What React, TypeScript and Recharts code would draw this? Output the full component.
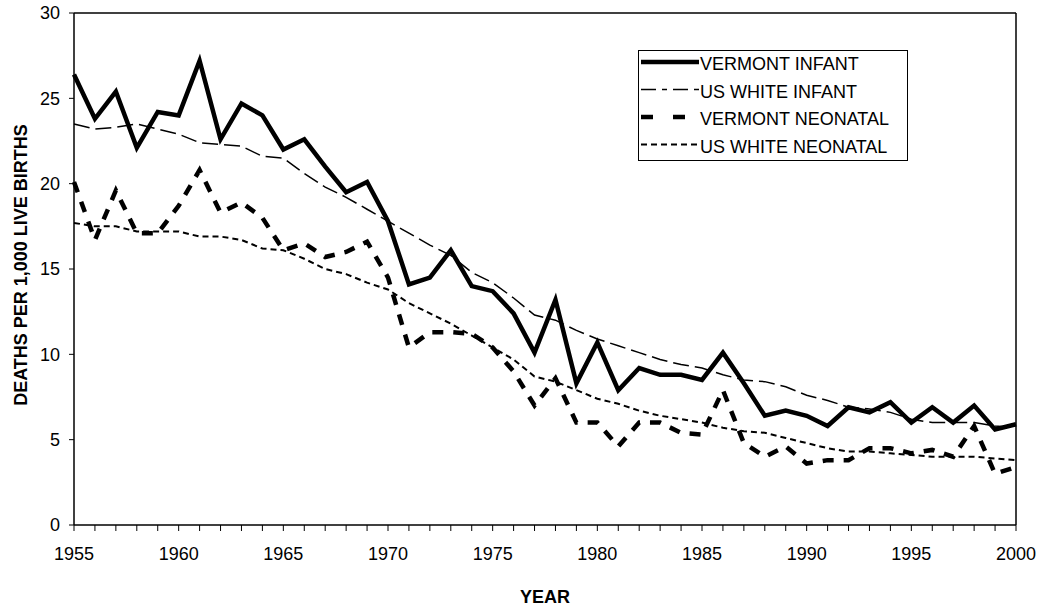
import React from 'react';
import { LineChart, Line, XAxis, YAxis, Legend, ReferenceLine } from 'recharts';

const FONT = '"Liberation Sans", Arial, Helvetica, sans-serif';

const years = [
  1955, 1956, 1957, 1958, 1959, 1960, 1961, 1962, 1963, 1964,
  1965, 1966, 1967, 1968, 1969, 1970, 1971, 1972, 1973, 1974,
  1975, 1976, 1977, 1978, 1979, 1980, 1981, 1982, 1983, 1984,
  1985, 1986, 1987, 1988, 1989, 1990, 1991, 1992, 1993, 1994,
  1995, 1996, 1997, 1998, 1999, 2000,
];

const vermontInfant = [
  26.4, 23.8, 25.4, 22.1, 24.2, 24.0, 27.2, 22.6, 24.7, 24.0,
  22.0, 22.6, 21.0, 19.5, 20.1, 17.8, 14.1, 14.5, 16.1, 14.0,
  13.7, 12.4, 10.1, 13.2, 8.3, 10.7, 7.9, 9.2, 8.8, 8.8,
  8.5, 10.1, 8.3, 6.4, 6.7, 6.4, 5.8, 6.9, 6.6, 7.2,
  6.0, 6.9, 6.0, 7.0, 5.6, 5.9,
];

const usWhiteInfant = [
  23.5, 23.2, 23.3, 23.5, 23.2, 22.9, 22.4, 22.3, 22.2, 21.6,
  21.5, 20.6, 19.8, 19.2, 18.5, 17.8, 17.1, 16.4, 15.8, 14.8,
  14.2, 13.3, 12.3, 12.0, 11.4, 10.9, 10.5, 10.1, 9.7, 9.4,
  9.2, 8.8, 8.5, 8.4, 8.1, 7.6, 7.3, 6.9, 6.8, 6.6,
  6.2, 6.0, 6.0, 6.0, 5.8, 5.7,
];

const vermontNeonatal = [
  20.1, 16.7, 19.6, 17.1, 17.1, 18.7, 20.8, 18.3, 18.9, 18.0,
  16.1, 16.5, 15.7, 16.0, 16.6, 14.5, 10.4, 11.3, 11.3, 11.2,
  10.4, 9.0, 7.0, 8.6, 6.0, 6.0, 4.6, 6.0, 6.0, 5.4,
  5.3, 7.9, 4.8, 4.0, 4.6, 3.6, 3.8, 3.8, 4.5, 4.5,
  4.2, 4.4, 4.0, 5.8, 3.0, 3.4,
];

const usWhiteNeonatal = [
  17.7, 17.5, 17.5, 17.2, 17.2, 17.2, 16.9, 16.9, 16.7, 16.2,
  16.1, 15.6, 15.0, 14.7, 14.2, 13.8, 13.0, 12.4, 11.8, 11.1,
  10.4, 9.7, 8.7, 8.4, 7.9, 7.4, 7.1, 6.7, 6.4, 6.2,
  6.0, 5.7, 5.5, 5.4, 5.1, 4.8, 4.5, 4.3, 4.3, 4.2,
  4.1, 4.0, 4.0, 4.0, 3.9, 3.8,
];

const yTicks = [0, 5, 10, 15, 20, 25, 30];

const data = years.map((year, i) => ({
  year,
  vtInfant: vermontInfant[i],
  usInfant: usWhiteInfant[i],
  vtNeonatal: vermontNeonatal[i],
  usNeonatal: usWhiteNeonatal[i],
}));

const seriesDefs = [
  { key: 'vtInfant', name: 'VERMONT INFANT', width: 4.5, dash: undefined as string | undefined, legendDash: undefined as string | undefined },
  { key: 'usInfant', name: 'US WHITE INFANT', width: 1.5, dash: '16 6', legendDash: '15 6 5 6' },
  { key: 'vtNeonatal', name: 'VERMONT NEONATAL', width: 4.5, dash: '11 10', legendDash: '12 20' },
  { key: 'usNeonatal', name: 'US WHITE NEONATAL', width: 2, dash: '6 4', legendDash: '6 4' },
];

const XTick = (props: any) => {
  const { x, y, payload } = props;
  if (payload.value % 5 !== 0) return <g />;
  return (
    <text x={x} y={y} dy="0.71em" textAnchor="middle" fontSize={18} fontFamily={FONT} fill="#000">
      {payload.value}
    </text>
  );
};

const YLabel = (props: any) => {
  const vb = props.viewBox || { x: 0, y: 13, width: 74, height: 512 };
  const cx = vb.x + 21;
  const cy = vb.y + vb.height / 2 - 4;
  return (
    <text
      x={cx}
      y={cy}
      transform={`rotate(-90 ${cx} ${cy})`}
      textAnchor="middle"
      dominantBaseline="central"
      fontSize={18}
      fontWeight="bold"
      fontFamily={FONT}
      fill="#000"
    >
      DEATHS PER 1,000 LIVE BIRTHS
    </text>
  );
};

const XLabel = (props: any) => {
  const vb = props.viewBox || { x: 74, y: 525, width: 942, height: 85 };
  return (
    <text
      x={vb.x + vb.width / 2}
      y={vb.y + 78}
      textAnchor="middle"
      fontSize={18}
      fontWeight="bold"
      fontFamily={FONT}
      fill="#000"
    >
      YEAR
    </text>
  );
};

const renderLegend = () => (
  <svg width={270} height={111} style={{ display: 'block', overflow: 'visible' }}>
    <rect x={0.5} y={0.5} width={269} height={110} fill="none" stroke="#000" strokeWidth={1} />
    {seriesDefs.map((s, i) => {
      const cy = 12 + i * 27.5;
      return (
        <g key={s.key}>
          <line x1={3} x2={61} y1={cy} y2={cy} stroke="#000" strokeWidth={s.width} strokeDasharray={s.legendDash} />
          <text x={62} y={cy + 2} dominantBaseline="central" fontSize={18} fontFamily={FONT} fill="#000">
            {s.name}
          </text>
        </g>
      );
    })}
  </svg>
);

export default function App() {
  return (
    <div style={{ position: 'absolute', left: 0, top: 0, width: 1041, height: 610, background: '#fff' }}>
      <LineChart width={1041} height={610} data={data} margin={{ top: 13, right: 25, left: 0, bottom: 0 }}>
        <XAxis
          dataKey="year"
          type="number"
          domain={[1955, 2000]}
          ticks={years}
          interval={0}
          height={85}
          tick={<XTick />}
          tickSize={6}
          tickMargin={16}
          axisLine={{ stroke: '#000', strokeWidth: 1.5 }}
          tickLine={{ stroke: '#000', strokeWidth: 1 }}
          label={<XLabel />}
        />
        <YAxis
          type="number"
          domain={[0, 30]}
          ticks={yTicks}
          interval={0}
          width={74}
          tickSize={5}
          tickMargin={9}
          tick={{ fontSize: 18, fontFamily: FONT, fill: '#000' }}
          axisLine={{ stroke: '#000', strokeWidth: 1.5 }}
          tickLine={{ stroke: '#000', strokeWidth: 1 }}
          label={<YLabel />}
        />
        <ReferenceLine y={30} stroke="#000" strokeWidth={1.5} ifOverflow="visible" />
        <ReferenceLine x={2000} stroke="#000" strokeWidth={1.5} ifOverflow="visible" />
        <Legend
          layout="horizontal"
          verticalAlign="middle"
          align="center"
          content={renderLegend}
          wrapperStyle={{ position: 'absolute', left: 638, top: 50, width: 270, height: 111 }}
        />
        {seriesDefs.map((s) => (
          <Line
            key={s.key}
            type="linear"
            dataKey={s.key}
            name={s.name}
            stroke="#000"
            strokeWidth={s.width}
            strokeDasharray={s.dash}
            dot={false}
            activeDot={false}
            isAnimationActive={false}
          />
        ))}
      </LineChart>
    </div>
  );
}
